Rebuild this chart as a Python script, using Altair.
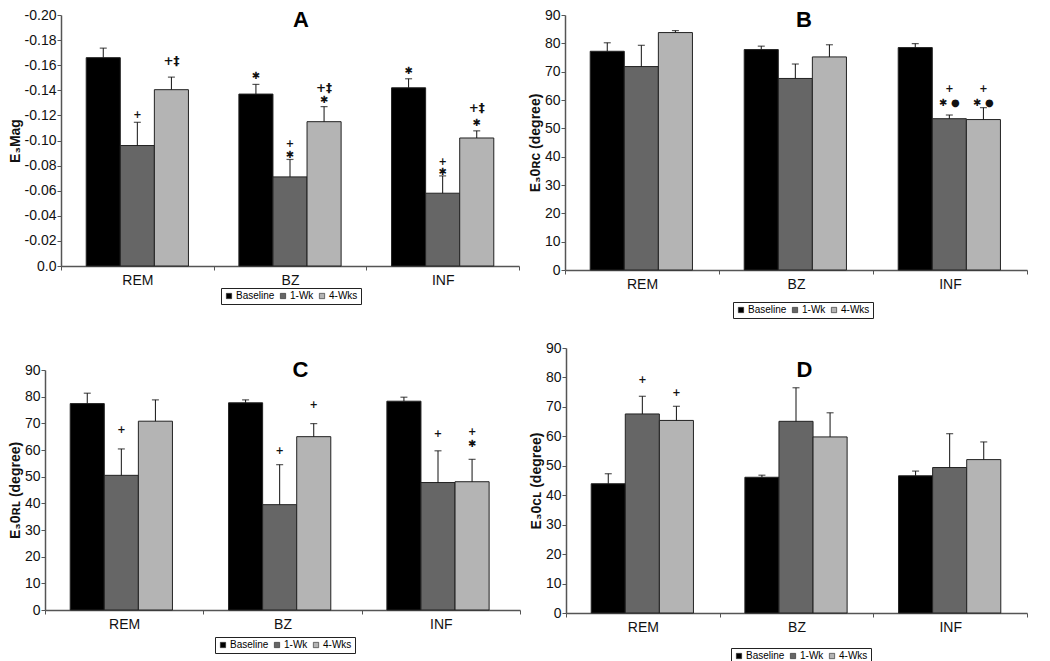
import altair as alt
import pandas as pd

regions = ["REM", "BZ", "INF"]
groups = ["Baseline", "1-Wk", "4-Wks"]
bar_colors = ["#000000", "#666666", "#b4b4b4"]

# ---- Panel A : E3Mag (negative values, reversed axis)
a_baseline = [-0.166, -0.137, -0.142]
a_1wk = [-0.096, -0.071, -0.058]
a_4wks = [-0.1405, -0.115, -0.102]
a_err_baseline = [0.0076, 0.0077, 0.0072]
a_err_1wk = [0.0185, 0.0139, 0.0138]
a_err_4wks = [0.0100, 0.0120, 0.0057]
a_ann = [
    ("REM", "1-Wk", -0.120, "+"),
    ("REM", "4-Wks", -0.1634, "+‡"),
    ("BZ", "Baseline", -0.151, "✱"),
    ("BZ", "1-Wk", -0.0975, "+"),
    ("BZ", "1-Wk", -0.0885, "✱"),
    ("BZ", "4-Wks", -0.1415, "+‡"),
    ("BZ", "4-Wks", -0.1323, "✱"),
    ("INF", "Baseline", -0.155, "✱"),
    ("INF", "1-Wk", -0.0826, "+"),
    ("INF", "1-Wk", -0.0746, "✱"),
    ("INF", "4-Wks", -0.126, "+‡"),
    ("INF", "4-Wks", -0.114, "✱"),
]
a_ticks = [-0.20, -0.18, -0.16, -0.14, -0.12, -0.10, -0.08, -0.06, -0.04, -0.02, 0.0]

# ---- Panel B : E30RC
b_baseline = [77.2, 77.8, 78.5]
b_1wk = [71.8, 67.6, 53.4]
b_4wks = [83.8, 75.2, 53.1]
b_err_baseline = [3.0, 1.2, 1.4]
b_err_1wk = [7.5, 5.1, 1.3]
b_err_4wks = [0.7, 4.3, 4.2]
b_ann = [
    ("INF", "1-Wk", 63.9, "+"),
    ("INF", "1-Wk", 59.1, "✱  ●"),
    ("INF", "4-Wks", 63.9, "+"),
    ("INF", "4-Wks", 59.1, "✱  ●"),
]

# ---- Panel C : E30RL
c_baseline = [77.4, 77.7, 78.3]
c_1wk = [50.5, 39.5, 47.8]
c_4wks = [70.8, 65.0, 48.1]
c_err_baseline = [3.9, 1.1, 1.5]
c_err_1wk = [9.9, 15.0, 11.9]
c_err_4wks = [8.0, 4.9, 8.4]
c_ann = [
    ("REM", "1-Wk", 67.5, "+"),
    ("BZ", "1-Wk", 59.7, "+"),
    ("BZ", "4-Wks", 76.8, "+"),
    ("INF", "1-Wk", 66.1, "+"),
    ("INF", "4-Wks", 66.6, "+"),
    ("INF", "4-Wks", 62.3, "✱"),
]

# ---- Panel D : E30CL
d_baseline = [43.9, 46.1, 46.6]
d_1wk = [67.6, 65.1, 49.4]
d_4wks = [65.4, 59.8, 52.1]
d_err_baseline = [3.4, 0.7, 1.6]
d_err_1wk = [6.0, 11.4, 11.5]
d_err_4wks = [4.8, 8.2, 6.0]
d_ann = [
    ("REM", "1-Wk", 79.0, "+"),
    ("REM", "4-Wks", 74.7, "+"),
]

deg_ticks = [0, 10, 20, 30, 40, 50, 60, 70, 80, 90]

FONT = "Liberation Sans"


def make_df(means, errs):
    rows = []
    for g, vals, es in zip(groups, means, errs):
        for r, v, e in zip(regions, vals, es):
            hi = v - e if v < 0 else v + e
            rows.append({"region": r, "group": g, "value": v, "hi": hi})
    return pd.DataFrame(rows)


def make_ann(ann):
    return pd.DataFrame(ann, columns=["region", "group", "y", "text"])


def panel(df, ann, ydomain, yreverse, yvalues, ytitle, title, width, height,
          legend_x, legend_y, label_expr=None, yrange=None, xstart=0):
    xscale_kw = dict(paddingInner=0, paddingOuter=0)
    if xstart:
        xscale_kw["range"] = [xstart, width]
    x = alt.X("region:N", sort=regions,
              scale=alt.Scale(**xscale_kw),
              axis=alt.Axis(title=None, labelAngle=0, tickBand="extent",
                            labelPadding=3, labelFontSize=14))
    xo = alt.XOffset("group:N", sort=groups,
                     scale=alt.Scale(paddingInner=0, paddingOuter=0.74))
    scale_kw = dict(domain=ydomain, reverse=yreverse, nice=False, zero=False)
    if yrange:
        scale_kw["range"] = yrange
    yscale = alt.Scale(**scale_kw)
    axis_kw = dict(title=ytitle, values=yvalues, labelFontSize=14,
                   titleFontSize=14, titleFontWeight="bold", titlePadding=2,
                   labelPadding=1, labelOverlap=False)
    if label_expr:
        axis_kw["labelExpr"] = label_expr
    if xstart:
        axis_kw["offset"] = -xstart
    yaxis = alt.Axis(**axis_kw)
    base = alt.Chart(df)
    bars = base.mark_bar(stroke="#222222", strokeWidth=1).encode(
        x=x, xOffset=xo,
        y=alt.Y("value:Q", scale=yscale, axis=yaxis),
        y2=alt.datum(0),
        color=alt.Color("group:N", sort=groups,
                        scale=alt.Scale(domain=groups, range=bar_colors),
                        legend=alt.Legend(
                            title=None, orient="none", legendX=legend_x,
                            legendY=legend_y, direction="horizontal",
                            symbolType="square", symbolSize=28,
                            symbolStrokeColor="#222222", symbolStrokeWidth=0.6,
                            labelFontSize=10, labelFont=FONT,
                            strokeColor="#222222", padding=3,
                            columnPadding=3, labelOffset=2,
                            fillColor="white")),
    )
    rules = base.mark_rule(color="#111111", strokeWidth=1).encode(
        x=x, xOffset=xo, y=alt.Y("value:Q", scale=yscale, axis=yaxis),
        y2=alt.Y2("hi:Q"))
    caps = base.mark_tick(color="#111111", thickness=1.2, size=7).encode(
        x=x, xOffset=xo, y=alt.Y("hi:Q", scale=yscale, axis=yaxis))
    texts = alt.Chart(ann).mark_text(
        font="DejaVu Sans", fontWeight="bold", baseline="middle", color="#111111"
    ).transform_calculate(
        fs="indexof(datum.text, '‡') >= 0 ? 12 : 10"
    ).encode(
        x=x, xOffset=xo, y=alt.Y("y:Q", scale=yscale, axis=yaxis),
        text="text:N",
        size=alt.Size("fs:Q", scale=None, legend=None))
    return alt.layer(bars, rules, caps, texts).properties(
        width=width, height=height, title=title)


def ttl(letter, dx, dy):
    return alt.TitleParams(text=letter, fontSize=22, fontWeight="bold",
                           font=FONT, frame="group", anchor="middle", offset=0,
                           dx=dx, dy=dy, color="#000000")


A = panel(make_df([a_baseline, a_1wk, a_4wks],
                  [a_err_baseline, a_err_1wk, a_err_4wks]),
          make_ann(a_ann), [-0.2, 0.0], True, a_ticks, "E₃Mag",
          ttl("A", 19, 24), 474, 251, 176, 273,
          label_expr="datum.value == 0 ? '0.0' : '-' + format(-datum.value, '.2f')",
          xstart=16)
B = panel(make_df([b_baseline, b_1wk, b_4wks],
                  [b_err_baseline, b_err_1wk, b_err_4wks]),
          make_ann(b_ann), [0, 90], False, deg_ticks, "E₃0ʀᴄ (degree)",
          ttl("B", 8, 24), 462, 255, 168, 287)
C = panel(make_df([c_baseline, c_1wk, c_4wks],
                  [c_err_baseline, c_err_1wk, c_err_4wks]),
          make_ann(c_ann), [0, 90], False, deg_ticks, "E₃0ʀʟ (degree)",
          ttl("C", 18, 34), 475, 262, 170, 289, yrange=[262, 22])
D = panel(make_df([d_baseline, d_1wk, d_4wks],
                  [d_err_baseline, d_err_1wk, d_err_4wks]),
          make_ann(d_ann), [0, 90], False, deg_ticks, "E₃0ᴄʟ (degree)",
          ttl("D", 8, 41), 461, 265, 165, 300)

row1 = alt.hconcat(A, B, spacing=8).resolve_scale(color="independent").resolve_legend(color="independent")
row2 = alt.hconcat(C, D, spacing=8).resolve_scale(color="independent").resolve_legend(color="independent")

chart = alt.vconcat(row1, row2, spacing=22).resolve_scale(
    color="independent").resolve_legend(color="independent").properties(
    padding={"left": 0, "top": 0, "right": 0, "bottom": 0}
).configure(font=FONT).configure_view(stroke=None).configure_axis(
    domainColor="#555555", domainWidth=1.5, tickColor="#555555", tickSize=4,
    labelColor="#111111", titleColor="#111111", grid=False,
    labelFont=FONT, titleFont=FONT)

chart.save("out.html", embed_options={"renderer": "svg", "actions": False})
